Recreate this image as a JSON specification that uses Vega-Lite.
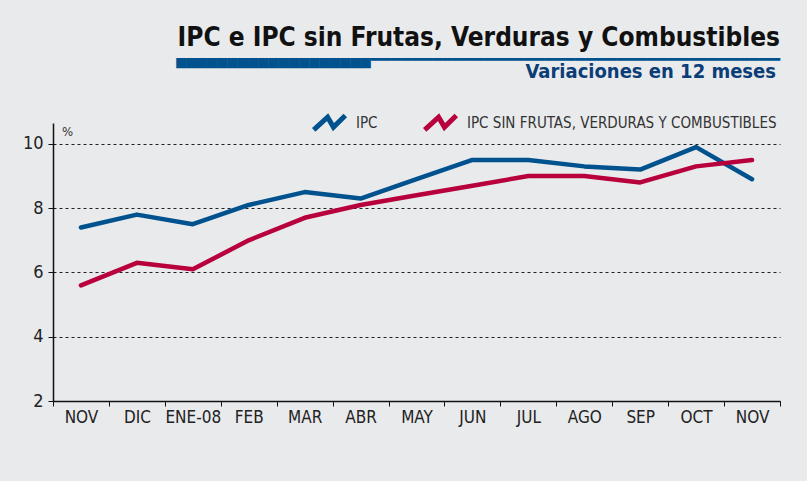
{
  "$schema": "https://vega.github.io/schema/vega-lite/v6.json",
  "width": 727,
  "height": 278,
  "autosize": "none",
  "padding": {"left": 53, "top": 123, "right": 27, "bottom": 80},
  "background": "#e9eaec",
  "title": {
    "text": "IPC e IPC sin Frutas, Verduras y Combustibles",
    "subtitle": "▀▀▀▀▀▀▀▀▀▀▀▀▀▀▀▀▀▀▀▔▔▔▔▔▔▔▔▔▔▔▔▔▔▔▔▔▔▔▔▔▔▔▔▔▔▔▔▔▔▔▔▔▔▔▔▔▔▔▔",
    "anchor": "end",
    "frame": "group",
    "font": "DejaVu Sans Condensed",
    "fontSize": 26,
    "fontWeight": "bold",
    "color": "#111111",
    "subtitleFont": "DejaVu Sans Mono",
    "subtitleFontSize": 17,
    "subtitleColor": "#00528e",
    "subtitlePadding": 10,
    "offset": -15
  },
  "data": {
    "values": [
      {"mes": "NOV-07", "serie": "IPC", "valor": 7.4},
      {"mes": "DIC", "serie": "IPC", "valor": 7.8},
      {"mes": "ENE-08", "serie": "IPC", "valor": 7.5},
      {"mes": "FEB", "serie": "IPC", "valor": 8.1},
      {"mes": "MAR", "serie": "IPC", "valor": 8.5},
      {"mes": "ABR", "serie": "IPC", "valor": 8.3},
      {"mes": "MAY", "serie": "IPC", "valor": 8.9},
      {"mes": "JUN", "serie": "IPC", "valor": 9.5},
      {"mes": "JUL", "serie": "IPC", "valor": 9.5},
      {"mes": "AGO", "serie": "IPC", "valor": 9.3},
      {"mes": "SEP", "serie": "IPC", "valor": 9.2},
      {"mes": "OCT", "serie": "IPC", "valor": 9.9},
      {"mes": "NOV-08", "serie": "IPC", "valor": 8.9},
      {"mes": "NOV-07", "serie": "IPC SIN FRUTAS, VERDURAS Y COMBUSTIBLES", "valor": 5.6},
      {"mes": "DIC", "serie": "IPC SIN FRUTAS, VERDURAS Y COMBUSTIBLES", "valor": 6.3},
      {"mes": "ENE-08", "serie": "IPC SIN FRUTAS, VERDURAS Y COMBUSTIBLES", "valor": 6.1},
      {"mes": "FEB", "serie": "IPC SIN FRUTAS, VERDURAS Y COMBUSTIBLES", "valor": 7.0},
      {"mes": "MAR", "serie": "IPC SIN FRUTAS, VERDURAS Y COMBUSTIBLES", "valor": 7.7},
      {"mes": "ABR", "serie": "IPC SIN FRUTAS, VERDURAS Y COMBUSTIBLES", "valor": 8.1},
      {"mes": "MAY", "serie": "IPC SIN FRUTAS, VERDURAS Y COMBUSTIBLES", "valor": 8.4},
      {"mes": "JUN", "serie": "IPC SIN FRUTAS, VERDURAS Y COMBUSTIBLES", "valor": 8.7},
      {"mes": "JUL", "serie": "IPC SIN FRUTAS, VERDURAS Y COMBUSTIBLES", "valor": 9.0},
      {"mes": "AGO", "serie": "IPC SIN FRUTAS, VERDURAS Y COMBUSTIBLES", "valor": 9.0},
      {"mes": "SEP", "serie": "IPC SIN FRUTAS, VERDURAS Y COMBUSTIBLES", "valor": 8.8},
      {"mes": "OCT", "serie": "IPC SIN FRUTAS, VERDURAS Y COMBUSTIBLES", "valor": 9.3},
      {"mes": "NOV-08", "serie": "IPC SIN FRUTAS, VERDURAS Y COMBUSTIBLES", "valor": 9.5}
    ]
  },
  "mark": {"type": "line", "strokeWidth": 4.5, "strokeCap": "round", "strokeJoin": "round"},
  "encoding": {
    "x": {
      "field": "mes",
      "type": "ordinal",
      "sort": ["NOV-07", "DIC", "ENE-08", "FEB", "MAR", "ABR", "MAY", "JUN", "JUL", "AGO", "SEP", "OCT", "NOV-08"],
      "scale": {"paddingInner": 0, "paddingOuter": 0},
      "axis": {
        "title": null,
        "labelAngle": 0,
        "labelExpr": "datum.value == 'NOV-07' || datum.value == 'NOV-08' ? 'NOV' : datum.value",
        "labelFont": "DejaVu Sans Condensed",
        "labelFontSize": 17,
        "labelColor": "#222222",
        "labelPadding": 3,
        "tickBand": "extent",
        "tickSize": 5,
        "tickColor": "#111111",
        "domainColor": "#111111",
        "domainWidth": 1.5,
        "grid": false
      }
    },
    "y": {
      "field": "valor",
      "type": "quantitative",
      "scale": {"domain": [2, 10.65], "nice": false, "zero": false},
      "axis": {
        "values": [2, 4, 6, 8, 10],
        "title": "%",
        "titleAngle": 0,
        "titleX": 14,
        "titleY": 8,
        "titleAlign": "center",
        "titleBaseline": "middle",
        "titleFont": "DejaVu Sans Condensed",
        "titleFontSize": 13,
        "titleFontWeight": "normal",
        "titleColor": "#333333",
        "labelFont": "DejaVu Sans Condensed",
        "labelFontSize": 18,
        "labelColor": "#222222",
        "labelPadding": 5,
        "tickSize": 5,
        "tickColor": "#111111",
        "domainColor": "#111111",
        "domainWidth": 1.5,
        "grid": true,
        "gridDash": [3, 3],
        "gridColor": "#222222",
        "gridWidth": 1
      }
    },
    "color": {
      "field": "serie",
      "type": "nominal",
      "scale": {"domain": ["IPC", "IPC SIN FRUTAS, VERDURAS Y COMBUSTIBLES"], "range": ["#00528e", "#b7003c"]},
      "legend": {
        "title": "Variaciones en 12 meses",
        "orient": "none",
        "legendX": 258,
        "legendY": -61,
        "direction": "horizontal",
        "titleAnchor": "end",
        "titleFont": "DejaVu Sans Condensed",
        "titleFontSize": 20,
        "titleFontWeight": "bold",
        "titleColor": "#0b3d77",
        "titlePadding": 22,
        "titleLimit": 600,
        "labelFont": "DejaVu Sans Condensed",
        "labelFontSize": 15,
        "labelColor": "#333333",
        "labelLimit": 500,
        "labelOffset": 8,
        "columnPadding": 36,
        "symbolType": "M-1,0.45L-0.12,-0.35L0.25,0.28L1,-0.45",
        "symbolSize": 1000,
        "symbolStrokeWidth": 5,
        "symbolFillColor": "transparent"
      }
    }
  },
  "config": {"view": {"stroke": null}}
}
